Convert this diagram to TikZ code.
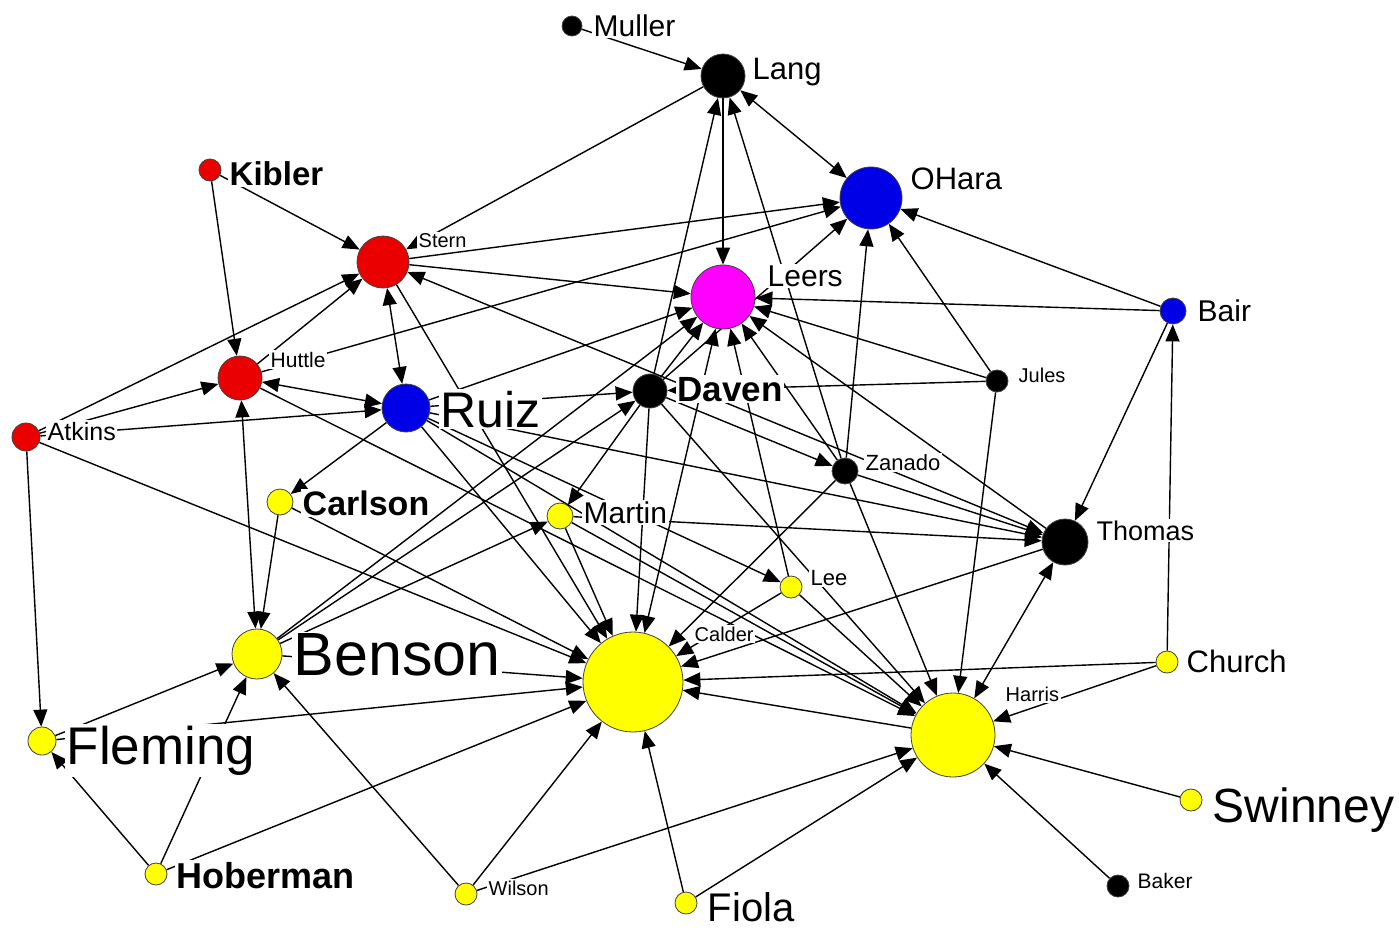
\documentclass[tikz,border=0pt]{standalone}
\usepackage{fontspec}
\setmainfont{Liberation Sans}
\usetikzlibrary{arrows.meta}
\pgfdeclarelayer{paper}
\pgfdeclarelayer{edges}
\pgfdeclarelayer{labels}
\pgfsetlayers{paper,edges,labels,main}
\newcommand\fsz[1]{\fontsize{#1}{#1}\selectfont}
\definecolor{nred}{RGB}{235,0,0}
\definecolor{nblue}{RGB}{0,0,230}
\definecolor{nmag}{RGB}{255,0,255}
\definecolor{nyel}{RGB}{255,255,0}
\begin{document}
\begin{tikzpicture}[x=1pt,y=-1pt,
  >={Triangle[length=17pt,width=14pt]},
  nd/.style={circle,draw=black!75,line width=0.8pt,inner sep=0pt,minimum size=#1},
  rd/.style={nd=#1,fill=nred},
  bl/.style={nd=#1,fill=nblue},
  mg/.style={nd=#1,fill=nmag},
  yl/.style={nd=#1,fill=nyel},
  bk/.style={nd=#1,fill=black},
  lab/.style={anchor=base west,fill=white,inner sep=1.5pt},
  ed/.style={line width=1.4pt,->},
  bd/.style={line width=1.4pt,<->}]
\useasboundingbox (0,0) rectangle (1399,929);
\begin{pgfonlayer}{paper}
\fill[white] (0,0) rectangle (1399,929);
\end{pgfonlayer}

% actors
\node[bk=20] (Muller) at (572,26) {};
\node[bk=44] (Lang) at (723,76) {};
\node[bl=62] (OHara) at (871,198) {};
\node[rd=22] (Kibler) at (210,170) {};
\node[rd=52] (Stern) at (383,262) {};
\node[mg=64] (Leers) at (723,297) {};
\node[bl=26] (Bair) at (1173,311) {};
\node[rd=44] (Huttle) at (240,378) {};
\node[bl=48] (Ruiz) at (406,408) {};
\node[bk=34] (Daven) at (650,391) {};
\node[bk=22] (Jules) at (997,381) {};
\node[rd=28] (Atkins) at (26,437) {};
\node[bk=26] (Zanado) at (845,471) {};
\node[yl=26] (Carlson) at (280,502) {};
\node[yl=26] (Martin) at (560,516) {};
\node[bk=46] (Thomas) at (1065,542) {};
\node[yl=22] (Lee) at (791,587) {};
\node[yl=50] (Benson) at (257,654) {};
\node[yl=100] (Calder) at (633,682) {};
\node[yl=22] (Church) at (1167,662) {};
\node[yl=84] (Harris) at (953,735) {};
\node[yl=28] (Fleming) at (42,741) {};
\node[yl=22] (Swinney) at (1191,800) {};
\node[yl=22] (Hoberman) at (156,874) {};
\node[yl=22] (Wilson) at (466,894) {};
\node[bk=22] (Baker) at (1118,886) {};
\node[yl=22] (Fiola) at (686,903) {};

% names
\begin{pgfonlayer}{labels}
\node[lab,font=\fsz{30}] (tMuller) at (592,36) {Muller};
\node[lab,font=\fsz{31}] (tLang) at (751,79) {Lang};
\node[lab,font=\fsz{31}] (tOHara) at (909,189) {OHara};
\node[lab,font=\fsz{33}\bfseries] (tKibler) at (228,185) {Kibler};
\node[lab,font=\fsz{20}] (tStern) at (417,247) {Stern};
\node[lab,font=\fsz{30}] (tLeers) at (766,286) {Leers};
\node[lab,font=\fsz{30}] (tBair) at (1196,321) {Bair};
\node[lab,font=\fsz{21}] (tHuttle) at (269,367) {Huttle};
\node[lab,font=\fsz{50}] (tRuiz) at (439,427) {Ruiz};
\node[lab,font=\fsz{35}\bfseries] (tDaven) at (676,401) {Daven};
\node[lab,font=\fsz{20}] (tJules) at (1017,382) {Jules};
\node[lab,font=\fsz{25}] (tAtkins) at (46,440) {Atkins};
\node[lab,font=\fsz{22}] (tZanado) at (864,470) {Zanado};
\node[lab,font=\fsz{34}\bfseries] (tCarlson) at (301,515) {Carlson};
\node[lab,font=\fsz{30}] (tMartin) at (582,523) {Martin};
\node[lab,font=\fsz{27}] (tThomas) at (1095,540) {Thomas};
\node[lab,font=\fsz{22}] (tLee) at (809,585) {Lee};
\node[lab,font=\fsz{61}] (tBenson) at (292,675) {Benson};
\node[lab,font=\fsz{20}] (tCalder) at (693,641) {Calder};
\node[lab,font=\fsz{31}] (tChurch) at (1185,672) {Church};
\node[lab,font=\fsz{20}] (tHarris) at (1004,701) {Harris};
\node[lab,font=\fsz{53}] (tFleming) at (65,764) {Fleming};
\node[lab,font=\fsz{48}] (tSwinney) at (1211,822) {Swinney};
\node[lab,font=\fsz{36}\bfseries] (tHoberman) at (175,888) {Hoberman};
\node[lab,font=\fsz{20}] (tWilson) at (487,895) {Wilson};
\node[lab,font=\fsz{21}] (tBaker) at (1136,888) {Baker};
\node[lab,font=\fsz{40}] (tFiola) at (706,921) {Fiola};
\end{pgfonlayer}

% ties
\begin{pgfonlayer}{edges}
\draw[ed] (Muller) -- (Lang);
\draw[ed] (Lang) -- (Stern);
\draw[bd] (Lang) -- (OHara);
\draw[ed] (Lang) -- (Leers);
\draw[ed] (Daven) -- (Lang);
\draw[ed] (Zanado) -- (Lang);
\draw[ed] (Kibler) -- (Stern);
\draw[ed] (Kibler) -- (Huttle);
\draw[bd] (Stern) -- (Ruiz);
\draw[ed] (Atkins) -- (Stern);
\draw[ed] (Huttle) -- (Stern);
\draw[ed] (Stern) -- (OHara);
\draw[ed] (Stern) -- (Leers);
\draw[ed] (Huttle) -- (OHara);
\draw[bd] (Stern) -- (Thomas);
\draw[ed] (Atkins) -- (Huttle);
\draw[ed] (Atkins) -- (Ruiz);
\draw[bd] (Ruiz) -- (Huttle);
\draw[bd] (Huttle) -- (Benson);
\draw[ed] (Carlson) -- (Benson);
\draw[ed] (Atkins) -- (Fleming);
\draw[ed] (Atkins) -- (Calder);
\draw[ed] (Huttle) -- (Harris);
\draw[ed] (Ruiz) -- (Calder);
\draw[ed] (Stern) -- (Calder);
\draw[ed] (Ruiz) -- (Thomas);
\draw[ed] (Ruiz) -- (Daven);
\draw[ed] (Ruiz) -- (Leers);
\draw[ed] (Ruiz) -- (Lee);
\draw[ed] (Ruiz) -- (Harris);
\draw[ed] (Ruiz) -- (Carlson);
\draw[ed] (Daven) -- (OHara);
\draw[ed] (Daven) -- (Calder);
\draw[ed] (Daven) -- (Harris);
\draw[ed] (Daven) -- (Martin);
\draw[ed] (Daven) -- (Zanado);
\draw[ed] (Daven) -- (Leers);
\draw[ed] (Benson) -- (Daven);
\draw[ed] (Benson) -- (Leers);
\draw[ed] (Benson) -- (Martin);
\draw[ed] (Benson) -- (Calder);
\draw[ed] (Jules) -- (Daven);
\draw[ed] (Jules) -- (Leers);
\draw[ed] (Jules) -- (OHara);
\draw[ed] (Jules) -- (Harris);
\draw[ed] (Bair) -- (OHara);
\draw[ed] (Bair) -- (Leers);
\draw[ed] (Bair) -- (Thomas);
\draw[ed] (Church) -- (Bair);
\draw[ed] (Church) -- (Harris);
\draw[ed] (Church) -- (Calder);
\draw[ed] (Zanado) -- (OHara);
\draw[ed] (Zanado) -- (Thomas);
\draw[ed] (Zanado) -- (Calder);
\draw[ed] (Zanado) -- (Harris);
\draw[ed] (Zanado) -- (Leers);
\draw[ed] (Martin) -- (Thomas);
\draw[ed] (Martin) -- (Calder);
\draw[ed] (Martin) -- (Harris);
\draw[ed] (Lee) -- (Leers);
\draw[ed] (Lee) -- (Calder);
\draw[ed] (Lee) -- (Harris);
\draw[bd] (Leers) -- (Calder);
\draw[ed] (Thomas) -- (Leers);
\draw[ed] (Thomas) -- (Calder);
\draw[bd] (Thomas) -- (Harris);
\draw[ed] (Harris) -- (Calder);
\draw[ed] (Carlson) -- (Calder);
\draw[ed] (Fleming) -- (Benson);
\draw[ed] (Fleming) -- (Calder);
\draw[ed] (Hoberman) -- (Fleming);
\draw[ed] (Hoberman) -- (Benson);
\draw[ed] (Hoberman) -- (Calder);
\draw[ed] (Wilson) -- (Benson);
\draw[ed] (Wilson) -- (Calder);
\draw[ed] (Wilson) -- (Harris);
\draw[ed] (Fiola) -- (Calder);
\draw[ed] (Fiola) -- (Harris);
\draw[ed] (Swinney) -- (Harris);
\draw[ed] (Baker) -- (Harris);
\end{pgfonlayer}
\end{tikzpicture}
\end{document}
